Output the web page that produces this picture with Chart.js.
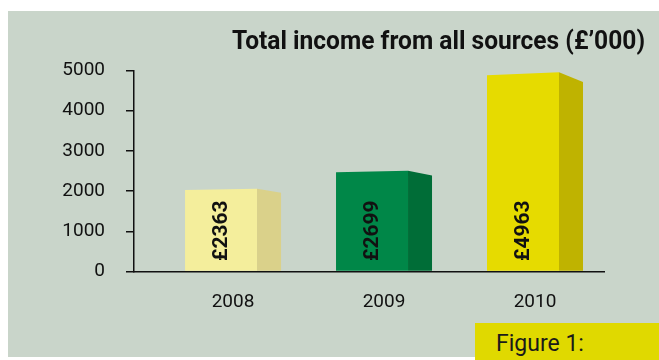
<!DOCTYPE html>
<html>
<head>
<meta charset="utf-8">
<script src="https://cdn.jsdelivr.net/npm/chart.js@4.4.1/dist/chart.umd.min.js"></script>
<style>
    body { margin: 0; background: #ffffff; width: 659px; height: 360px; overflow: hidden; position: relative; }
    #panel { position: absolute; left: 8px; top: 11px; width: 651px; height: 346px; background: #c9d5ca; }
    #figBox { position: absolute; left: 475px; top: 323px; width: 184px; height: 37px; background: #e0d900; }
    #figBox span { position: absolute; left: 21px; top: 7px; font: 23px Roboto, sans-serif; color: #1a1a1a; }
</style>
</head>
<body>
<div id="panel"><canvas id="incomeChart" width="651" height="346"></canvas></div>
<div id="figBox"><span>Figure 1:</span></div>
<script>
// Data
const years = [2008, 2009, 2010];
const barHeights = [2045, 2490, 4920];          // heights as drawn in the picture
const valueLabels = ['£2363', '£2699', '£4963']; // values printed on the bars
const yTicks = [0, 1000, 2000, 3000, 4000, 5000];
const titleText = 'Total income from all sources (£’000)';

// Colours
const frontColors = ['#f4ee9c', '#008748', '#e6db00'];
const sideColors = ['#dad18a', '#006d37', '#bfb300'];

// 3D-ish bars: front face + shaded side with a sloping top
const bars3d = {
    id: 'bars3d',
    afterDatasetsDraw(chart) {
        const ctx = chart.ctx;
        const meta = chart.getDatasetMeta(0);
        meta.data.forEach((bar, i) => {
            const { x, y, base, width } = bar.getProps(['x', 'y', 'base', 'width'], true);
            const left = x - width / 2;
            const frontRight = left + width * 0.75;
            const right = left + width;
            const h = base - y;
            const slant = h * 0.015;
            const drop = h * 0.05;

            ctx.save();
            ctx.fillStyle = frontColors[i];
            ctx.beginPath();
            ctx.moveTo(left, base);
            ctx.lineTo(left, y + slant / 2);
            ctx.lineTo(frontRight, y - slant / 2);
            ctx.lineTo(frontRight, base);
            ctx.closePath();
            ctx.fill();

            ctx.fillStyle = sideColors[i];
            ctx.beginPath();
            ctx.moveTo(frontRight, base);
            ctx.lineTo(frontRight, y - slant / 2);
            ctx.lineTo(right, y - slant / 2 + drop);
            ctx.lineTo(right, base);
            ctx.closePath();
            ctx.fill();

            // value label, rotated
            ctx.translate((left + frontRight) / 2, base - 40);
            ctx.rotate(-Math.PI / 2);
            ctx.fillStyle = '#111111';
            ctx.font = 'bold 21px Roboto, sans-serif';
            ctx.textAlign = 'center';
            ctx.textBaseline = 'middle';
            ctx.fillText(valueLabels[i], 0, 1);
            ctx.restore();
        });
    }
};

// Title, squeezed a little like the condensed original
const titlePlugin = {
    id: 'titlePlugin',
    afterDraw(chart) {
        const ctx = chart.ctx;
        ctx.save();
        ctx.font = 'bold 26px Roboto, sans-serif';
        ctx.fillStyle = '#111111';
        ctx.textBaseline = 'alphabetic';
        const w = ctx.measureText(titleText).width;
        const sx = 413 / w;
        ctx.translate(637 - 413, 38);
        ctx.scale(sx, 1);
        ctx.fillText(titleText, 0, 0);
        ctx.restore();
    }
};

const ctx = document.getElementById('incomeChart').getContext('2d');
const incomeChart = new Chart(ctx, {
    type: 'bar',
    data: {
        datasets: [{
            data: years.map((yr, i) => ({ x: yr, y: barHeights[i] })),
            backgroundColor: 'rgba(0,0,0,0)',
            barThickness: 96
        }]
    },
    options: {
        responsive: false,
        animation: false,
        events: [],
        layout: {
            padding: { top: 59.5, right: 55, bottom: 0, left: 0 }
        },
        plugins: {
            legend: { display: false },
            tooltip: { enabled: false },
            title: { display: false }
        },
        scales: {
            x: {
                type: 'linear',
                min: 2007.344,
                max: 2010.457,
                offset: false,
                z: 1,
                afterBuildTicks: (scale) => {
                    scale.ticks = years.map(v => ({ value: v }));
                },
                afterFit: (scale) => { scale.height = 85.5; },
                grid: { display: false, drawTicks: false },
                border: { display: true, color: '#111111', width: 1.5 },
                ticks: {
                    color: '#111111',
                    font: { family: 'Roboto', size: 19 },
                    padding: 19,
                    callback: (v) => String(v)
                }
            },
            y: {
                min: 0,
                max: 5000,
                z: 1,
                afterBuildTicks: (scale) => {
                    scale.ticks = yTicks.map(v => ({ value: v }));
                },
                afterFit: (scale) => { scale.width = 126; },
                grid: {
                    display: true,
                    drawOnChartArea: false,
                    drawTicks: true,
                    tickLength: 8,
                    color: '#111111',
                    lineWidth: 1.5
                },
                border: { display: true, color: '#111111', width: 1.5 },
                ticks: {
                    color: '#111111',
                    font: { family: 'Roboto', size: 19 },
                    padding: 21,
                    callback: (v) => String(v)
                }
            }
        }
    },
    plugins: [bars3d, titlePlugin]
});
</script>
</body>
</html>
